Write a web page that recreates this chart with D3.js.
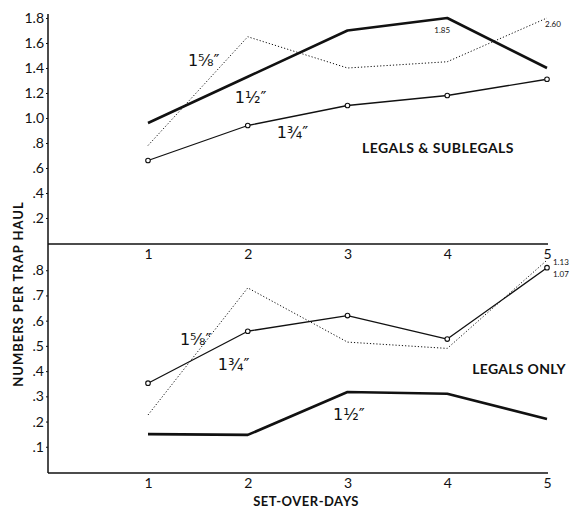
<!DOCTYPE html>
<html>
<head>
<meta charset="utf-8">
<script src="https://cdn.jsdelivr.net/npm/d3@7"></script>
<style>
  body { margin: 0; background: #fff; }
  svg text { font-family: Lato, 'Open Sans', sans-serif; fill: #111; }
</style>
</head>
<body>
<div id="chart"></div>
<script>
// Set-over-days
const days = [1, 2, 3, 4, 5]

// Legals & sublegals (numbers per trap haul)
const allHalf = [0.96, 1.33, 1.70, 1.85, 1.40]
const allFiveEighths = [0.78, 1.65, 1.40, 1.45, 2.60]
const allThreeQuarters = [0.66, 0.94, 1.10, 1.18, 1.31]

// Legals only
const legalHalf = [0.15, 0.147, 0.317, 0.31, 0.21]
const legalFiveEighths = [0.226, 0.73, 0.515, 0.49, 0.84]
const legalThreeQuarters = [0.352, 0.558, 0.62, 0.527, 0.81]

const topTicks = [0.2, 0.4, 0.6, 0.8, 1.0, 1.2, 1.4, 1.6, 1.8]
const bottomTicks = [0.1, 0.2, 0.3, 0.4, 0.5, 0.6, 0.7, 0.8]

const width = 580
const height = 508

const svg = d3.select('#chart').append('svg')
  .attr('width', width)
  .attr('height', height)

const x = d3.scaleLinear().domain([1, 5]).range([148, 547])
const yTop = d3.scaleLinear().domain([0, 1.8]).range([243, 18]).clamp(true)
const yBot = d3.scaleLinear().domain([0, 0.9]).range([472, 245])

const fmt = d => d < 1 ? d3.format('.1f')(d).slice(1) : d3.format('.1f')(d)

// frame lines
const axisLeftX = 48
const axisRightX = 548
svg.append('line')
  .attr('x1', axisLeftX).attr('x2', axisLeftX)
  .attr('y1', 14).attr('y2', yBot(0) + 1)
  .attr('stroke', '#111').attr('stroke-width', 1.5)
svg.append('line')
  .attr('x1', axisLeftX).attr('x2', axisRightX)
  .attr('y1', yTop(0) + 1).attr('y2', yTop(0) + 1)
  .attr('stroke', '#111').attr('stroke-width', 1.5)
svg.append('line')
  .attr('x1', axisLeftX).attr('x2', axisRightX)
  .attr('y1', yBot(0) + 1).attr('y2', yBot(0) + 1)
  .attr('stroke', '#111').attr('stroke-width', 1.5)

// y axes
function yAxis (scale, ticks) {
  const g = svg.append('g')
    .attr('transform', `translate(${axisLeftX},0)`)
    .call(d3.axisLeft(scale).tickValues(ticks).tickFormat(fmt).tickSize(2).tickPadding(2))
  g.select('.domain').remove()
  g.selectAll('.tick line').attr('stroke', '#111')
  g.selectAll('text').style('font-size', '14px').attr('dy', '0.32em')
}
yAxis(yTop, topTicks)
yAxis(yBot, bottomTicks)

// x axes
function xAxis (yPos) {
  const g = svg.append('g')
    .attr('transform', `translate(0,${yPos})`)
    .call(d3.axisBottom(x).tickValues(days).tickFormat(d3.format('d')).tickSize(0).tickPadding(5))
  g.select('.domain').remove()
  g.selectAll('text').style('font-size', '14px')
}
xAxis(yTop(0) + 1)
xAxis(yBot(0) + 1)

// axis titles
svg.append('text')
  .attr('transform', 'translate(23,294) rotate(-90)')
  .attr('text-anchor', 'middle')
  .style('font-size', '13px')
  .style('font-weight', 'bold')
  .style('letter-spacing', '1px')
  .text('NUMBERS PER TRAP HAUL')

svg.append('text')
  .attr('x', 306)
  .attr('y', 506)
  .attr('text-anchor', 'middle')
  .style('font-size', '13px')
  .style('font-weight', 'bold')
  .style('letter-spacing', '0.5px')
  .text('SET-OVER-DAYS')

// series
const styles = {
  half: { width: 2.6, dash: null },
  fiveEighths: { width: 1, dash: '1.2,2' },
  threeQuarters: { width: 1.3, dash: null }
}

function drawSeries (values, yScale, style, markers) {
  const pts = days.map((d, i) => [d, values[i]])
  const line = d3.line().x(d => x(d[0])).y(d => yScale(d[1]))
  svg.append('path')
    .datum(pts)
    .attr('d', line)
    .attr('fill', 'none')
    .attr('stroke', '#111')
    .attr('stroke-width', style.width)
    .attr('stroke-dasharray', style.dash)
    .attr('stroke-linejoin', 'round')
  if (markers) {
    svg.selectAll(null)
      .data(pts)
      .enter().append('circle')
      .attr('cx', d => x(d[0]))
      .attr('cy', d => yScale(d[1]))
      .attr('r', 2.3)
      .attr('fill', '#fff')
      .attr('stroke', '#111')
      .attr('stroke-width', 1.1)
  }
}

drawSeries(allFiveEighths, yTop, styles.fiveEighths, false)
drawSeries(allHalf, yTop, styles.half, false)
drawSeries(allThreeQuarters, yTop, styles.threeQuarters, true)

drawSeries(legalFiveEighths, yBot, styles.fiveEighths, false)
drawSeries(legalHalf, yBot, styles.half, false)
drawSeries(legalThreeQuarters, yBot, styles.threeQuarters, true)

// mesh size labels, e.g. 1 5/8"
function sizeLabel (xv, yv, yScale, txt) {
  svg.append('text')
    .attr('x', x(xv))
    .attr('y', yScale(yv))
    .style('font-family', "'DejaVu Sans', sans-serif")
    .style('font-size', '16px')
    .text(txt)
}

sizeLabel(1.40, 1.42, yTop, '1\u215D\u2033')
sizeLabel(1.87, 1.12, yTop, '1\u00BD\u2033')
sizeLabel(2.29, 0.84, yTop, '1\u00BE\u2033')

sizeLabel(1.32, 0.504, yBot, '1\u215D\u2033')
sizeLabel(1.70, 0.404, yBot, '1\u00BE\u2033')
sizeLabel(2.855, 0.206, yBot, '1\u00BD\u2033')

// panel titles
svg.append('text')
  .attr('x', x(3.145))
  .attr('y', yTop(0.72))
  .style('font-size', '14px')
  .style('font-weight', 'bold')
  .style('letter-spacing', '0.45px')
  .text('LEGALS & SUBLEGALS')

svg.append('text')
  .attr('x', x(4.25))
  .attr('y', yBot(0.389))
  .style('font-size', '14px')
  .style('font-weight', 'bold')
  .style('letter-spacing', '0.3px')
  .text('LEGALS ONLY')

// off-scale value notes
function note (xv, yv, yScale, txt, anchor) {
  svg.append('text')
    .attr('x', x(xv))
    .attr('y', yScale(yv))
    .attr('text-anchor', anchor)
    .style('font-size', '8px')
    .text(txt)
}
note(3.95, 1.68, yTop, '1.85', 'middle')
note(4.98, 1.73, yTop, '2.60', 'start')
note(5.06, 0.82, yBot, '1.13', 'start')
note(5.06, 0.773, yBot, '1.07', 'start')
</script>
</body>
</html>
